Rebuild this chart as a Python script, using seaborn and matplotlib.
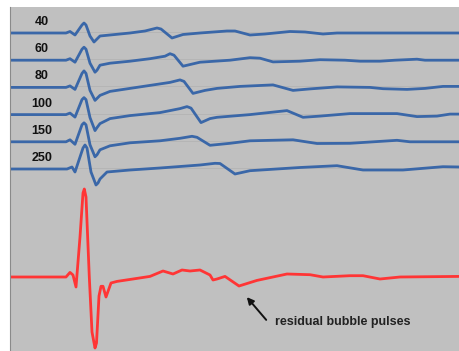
import matplotlib
matplotlib.use("Agg")
import matplotlib.pyplot as plt
import seaborn as sns
import pandas as pd

# ---- data (time axis, amplitude up positive) ----
labels = ["40", "60", "80", "100", "150", "250"]

t_40 = [0, 56, 60, 65, 72, 74, 76, 80, 84, 86, 90, 100, 120, 135, 143, 147, 151, 162, 173, 190, 217, 225, 240, 255, 280, 295, 313, 327, 450]
a_40 = [0, 0, 1.5, -2, 8, 10, 8, -3, -9, -7, -3, -2, 0, 2, 4, 5, 4, -5, -1.5, 0, 2, 2, -2, -1, 1.5, 1, -1, 0, 0]

t_60 = [0, 56, 60, 65, 72, 74, 76, 80, 85, 87, 90, 100, 120, 140, 155, 160, 164, 173, 190, 220, 240, 250, 263, 290, 310, 335, 350, 370, 385, 407, 415, 450]
a_60 = [0, 0, 1.5, -2, 11, 13, 11, -3, -12, -10, -5, -3, -1, 1.5, 4, 6.5, 5, -6, -2, 0, 2.5, 2, -1.7, -1, 0.5, 0, -1, -1, 0, 1, 0, 0]

t_80 = [0, 56, 60, 65, 72, 74, 76, 80, 85, 87, 90, 100, 120, 140, 160, 170, 174, 183, 195, 207, 230, 263, 283, 300, 327, 360, 373, 397, 415, 433, 450]
a_80 = [0, 0, 1.5, -2, 14, 16.5, 14, -3, -13, -11, -8, -4, -1, 2, 5, 7.5, 6, -6, -3, -1, 1, 2.5, -3, -1.5, 0.5, 0, -1.3, -2, -1, 1, 1]

t_100 = [0, 56, 60, 65, 72, 74, 76, 80, 85, 87, 90, 100, 120, 150, 170, 177, 181, 191, 200, 207, 240, 277, 293, 310, 340, 387, 407, 427, 440, 450]
a_100 = [0, 0, 1.5, -2.5, 15, 17, 15, -3, -16, -13, -9, -4, -1, 2, 6, 8, 6.5, -8, -4, -2.7, 0, 4, -2.7, -1.5, 1, 1, -2, -1.5, 0.5, 0.5]

t_150 = [0, 56, 60, 65, 72, 74, 76, 80, 85, 87, 90, 100, 120, 150, 170, 182, 187, 200, 220, 240, 283, 307, 340, 387, 400, 450]
a_150 = [0, 0, 2, -2.5, 17, 19, 17, -3, -15, -13, -8, -4, -1, 1, 3.5, 5.5, 4.5, -3.5, -1.5, 1, 2, -1.7, -1.5, 1.5, 0, 0]

t_250 = [0, 57, 62, 65, 73, 75, 77, 81, 86, 88, 90, 97, 120, 150, 190, 205, 210, 225, 240, 290, 327, 353, 393, 433, 450]
a_250 = [0, 0, 2, -3, 21, 24, 21, -3, -16, -14, -10, -3, -1, 1, 4, 5.7, 5.5, -5, -1.7, 1.5, 3.3, -1, -1, 2.3, 2]

t_red = [0, 56, 60, 63, 66, 70, 73, 74.3, 76, 79.3, 82, 85, 86.5, 89, 91, 93, 96, 101, 107, 123,
         140, 153, 163, 172, 180, 190, 200, 203, 207, 215, 229, 247, 277, 300, 313, 340, 353, 370, 390, 450]
a_red = [0, 0, 4.6, 2, -10, 40, 84, 88, 80, 0, -55, -71, -66, -19, -9.3, -9.3, -20, -6, -4.4, -2,
         0.6, 6, 3, 7, 6, 7, 2, -3, -2, 0.6, -9, -3.4, 3, 2.3, 0, 1.3, 1.3, -2, 0, 0.6]

annotation_text = "residual bubble pulses"

# ---- build long-form table ----
blue_t = [t_40, t_60, t_80, t_100, t_150, t_250]
blue_a = [a_40, a_60, a_80, a_100, a_150, a_250]
top_base = 318.0
spacing = 27.2
red_base = 74.0

rows = []
for i, (lab, ts, amps) in enumerate(zip(labels, blue_t, blue_a)):
    base = top_base - i * spacing
    for t, a in zip(ts, amps):
        rows.append({"trace": lab, "t": t, "y": base + a})
for t, a in zip(t_red, a_red):
    rows.append({"trace": "ref", "t": t, "y": red_base + a})
df = pd.DataFrame(rows)

palette = {lab: "#3a67a8" for lab in labels}
palette["ref"] = "#ff3535"

sns.set_theme(style="white")
fig = plt.figure(figsize=(4.6, 3.51), dpi=100)
ax = fig.add_axes([10 / 460, 0, 450 / 460, 344 / 351])
ax.set_facecolor("#c0c0c0")

# faint baseline grid
for i in range(len(labels)):
    ax.axhline(top_base - i * spacing + 1, color="#b3b3b3", lw=0.6, zorder=0)

sns.lineplot(data=df, x="t", y="y", hue="trace", palette=palette,
             units="trace", estimator=None, sort=False, lw=2.0, legend=False, ax=ax)

for i, lab in enumerate(labels):
    ax.text(32, top_base - i * spacing + 11, lab, ha="center", va="center",
            fontsize=9, fontweight="bold", family=["Liberation Sans", "DejaVu Sans"],
            color="#111111")

ax.annotate("", xy=(235, 56), xytext=(258, 29),
            arrowprops=dict(arrowstyle="-|>", color="#111111", lw=1.4, mutation_scale=10))
ax.text(265, 29, annotation_text, ha="left", va="center", fontsize=9,
        fontweight="bold", family=["Liberation Sans Narrow", "Liberation Sans", "DejaVu Sans"],
        color="#222222")

ax.set_xlim(0, 450)
ax.set_ylim(0, 344)
ax.set_xticks([])
ax.set_yticks([])
ax.set_xlabel("")
ax.set_ylabel("")
for s in ["top", "right", "bottom"]:
    ax.spines[s].set_visible(False)
ax.spines["left"].set_color("#8a8a8a")
ax.spines["left"].set_linewidth(0.8)

fig.savefig("out.png", dpi=100, facecolor="white")
